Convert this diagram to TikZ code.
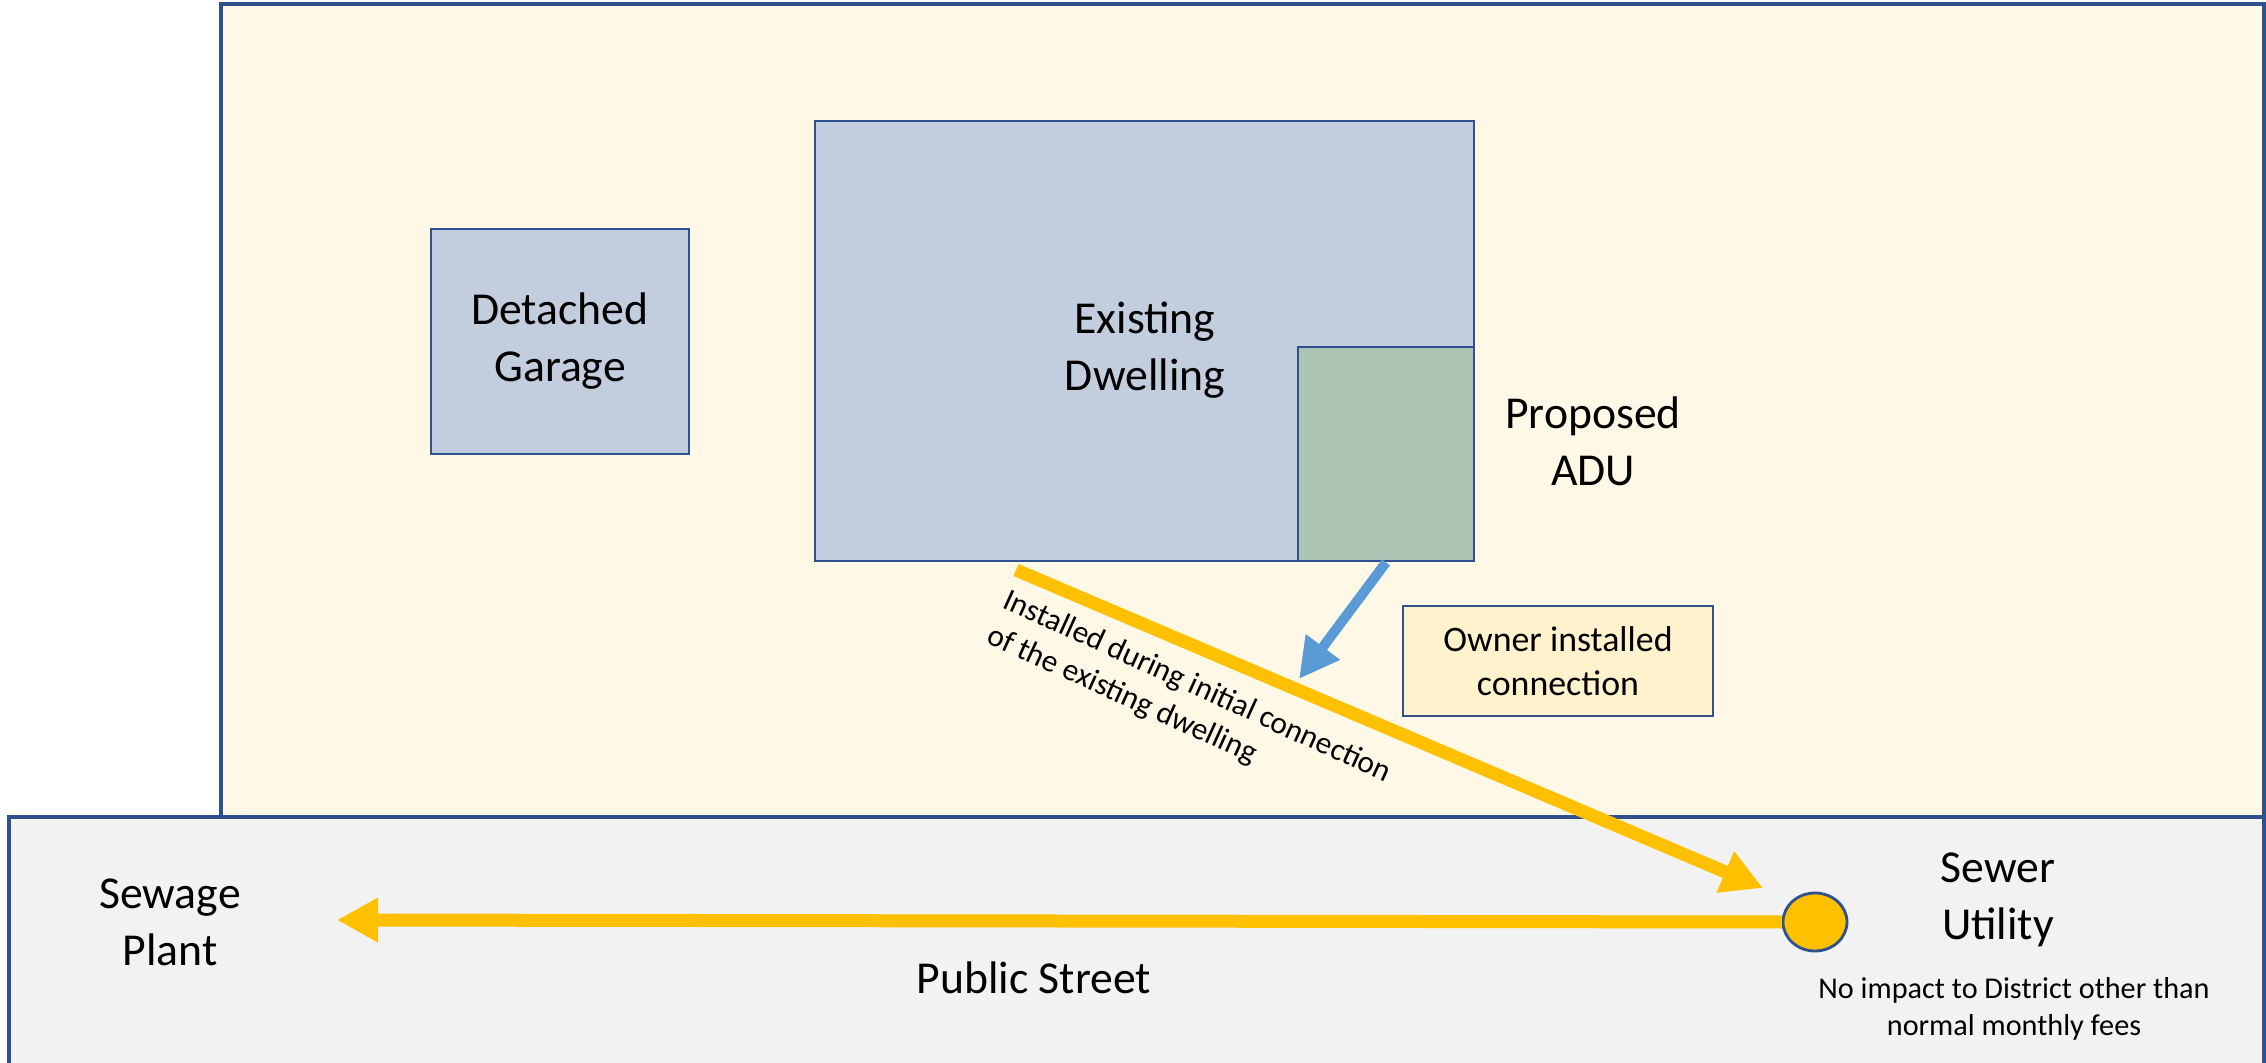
\documentclass[tikz,border=0pt]{standalone}
\usepackage{fontspec}
\setmainfont{Carlito}
\usepackage{xcolor}
\definecolor{LotCream}{RGB}{255,248,231}
\definecolor{StreetGrey}{RGB}{242,242,242}
\definecolor{Outline}{RGB}{47,82,143}
\definecolor{House}{RGB}{194,205,222}
\definecolor{Annex}{RGB}{172,196,180}
\definecolor{NoteGold}{RGB}{255,242,204}
\definecolor{Pipe}{RGB}{255,192,0}
\definecolor{Owner}{RGB}{91,155,213}
\newcommand{\biglabel}		{\fontsize{13}{16.2}\selectfont}
\newcommand{\notelabel}		{\fontsize{10.2}{12.5}\selectfont}
\newcommand{\feelabel}		{\fontsize{8.6}{10.5}\selectfont}
\newcommand{\pipelabel}		{\fontsize{8.9}{11}\selectfont}
\usetikzlibrary{arrows.meta, shapes.geometric}

\tikzset{
	building/.style={draw=Outline, line width=0.8pt, align=center, font=\biglabel, inner sep=0pt},
	pipe/.style={-{Triangle[length=0.41cm, width=0.42cm]}, draw=Pipe, line width=0.13cm},
	ownerline/.style={-{Triangle[length=0.40cm, width=0.40cm]}, draw=Owner, line width=0.10cm}
}

\begin{document}
\begin{tikzpicture}
		\useasboundingbox (0,0) rectangle (22.66,10.62);

		% Lot and street
		\filldraw [fill=LotCream, draw=Outline, line width=1pt] (2.21,10.58) rectangle (22.64,2.45);
		\filldraw [fill=StreetGrey, draw=Outline, line width=1pt] (0.09,2.45) rectangle (22.64,-0.5);


		% Buildings
		\node[building, fill=House, minimum width=2.58cm, minimum height=2.25cm] (garage) at (5.60,7.205) {Detached\\Garage};
		\node[building, fill=House, minimum width=6.59cm, minimum height=4.40cm] (dwelling) at (11.445,7.21) {};
		\node[building, fill=Annex, minimum width=1.76cm, minimum height=2.14cm] (adu) at (13.86,6.08) {};
		\node[building, fill=NoteGold, line width=0.6pt, font=\notelabel, minimum width=3.10cm, minimum height=1.10cm] (note) at (15.58,4.01) {Owner installed\\connection};
		\node[ellipse, fill=Pipe, draw=Outline, line width=0.8pt, inner sep=0pt, minimum width=0.64cm, minimum height=0.58cm] (tap) at (18.15,1.40) {};


		% Text
		\node[align=center, font=\biglabel] (dwellinglabel) at (11.45,7.12) {Existing\\Dwelling};
		\node[align=center, font=\biglabel] (adulabel) at (15.93,6.21) {Proposed\\ADU};
		\node[align=center, font=\biglabel] (plant) at (1.70,1.395) {Sewage\\Plant};
		\node[align=center, font=\biglabel] (street) at (10.34,0.84) {Public Street};
		\node[align=center, font=\biglabel] (utility) at (19.98,1.62) {Sewer\\Utility};
		\node[align=center, font=\feelabel] (fees) at (20.14,0.53) {No impact to District other than\\normal monthly fees};
		\node[align=left, font=\pipelabel, rotate=-24.5] (installed) at (11.89,3.57) {Installed during initial connection\\of the existing dwelling};


		% Lines
		\coordinate (lateral) at (10.16,4.92);
		\coordinate (lateralend) at (17.63,1.74);
		\coordinate (plantend) at (3.37,1.42);
		\coordinate (ownerend) at (12.99,3.83);
		\draw[pipe] (lateral) -- (lateralend);
		\draw[pipe] (tap.west) -- (plantend);
		\draw[ownerline] (adu.south) -- (ownerend);

	\end{tikzpicture}
\end{document}
